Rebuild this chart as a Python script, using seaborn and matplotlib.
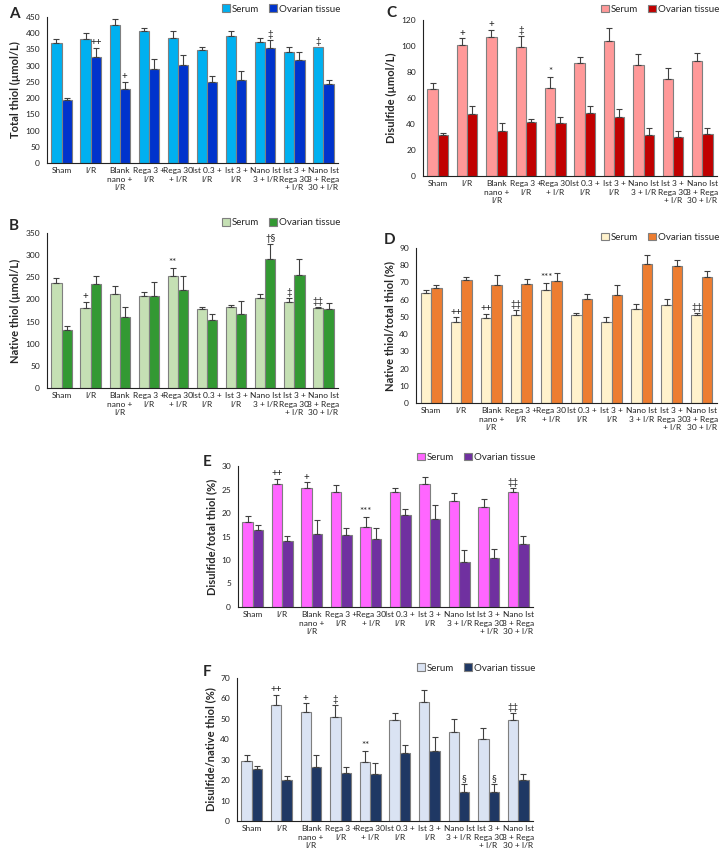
import matplotlib
matplotlib.use("Agg")
import matplotlib.pyplot as plt
import seaborn as sns
import pandas as pd

sns.set_style("white")
plt.rcParams['font.family'] = ['Lato', 'DejaVu Sans']

groups = ["Sham", "I/R", "Blank\nnano +\nI/R", "Rega 3 +\nI/R", "Rega 30\n+ I/R",
          "Ist 0.3 +\nI/R", "Ist 3 +\nI/R", "Nano Ist\n3 + I/R", "Ist 3 +\nRega 30\n+ I/R",
          "Nano Ist\n3 + Rega\n30 + I/R"]

# A - total thiol
a_serum = [370, 383, 426, 406, 386, 349, 391, 373, 343, 358]
a_serum_err = [12, 17, 19, 10, 20, 9, 16, 12, 15, 0]
a_ovary = [195, 327, 229, 290, 303, 249, 257, 354, 316, 242]
a_ovary_err = [5, 28, 20, 31, 30, 19, 27, 26, 27, 14]
a_serum_sig = ["", "", "", "", "", "", "", "", "", "‡"]
a_ovary_sig = ["", "++", "+", "", "", "", "", "‡", "", ""]

# B - native thiol
b_serum = [236, 181, 212, 207, 253, 178, 183, 204, 195, 181]
b_serum_err = [13, 13, 19, 10, 18, 4, 4, 9, 9, 3]
b_ovary = [130, 234, 161, 207, 222, 153, 168, 292, 256, 179]
b_ovary_err = [9, 18, 22, 32, 30, 14, 29, 33, 36, 13]
b_serum_sig = ["", "+", "", "", "**", "", "", "", "‡", "‡‡"]
b_ovary_sig = ["", "", "", "", "", "", "", "†§", "", ""]

# C - disulfide
c_serum = [66.7, 100.8, 107.2, 99.5, 67.4, 86.7, 104.1, 85.6, 74.9, 88.7]
c_serum_err = [5, 5, 5, 8, 9, 5, 9.5, 8, 8, 6]
c_ovary = [31.8, 47.4, 34.4, 41.3, 41.0, 48.5, 45.6, 31.3, 29.7, 32.3]
c_ovary_err = [1, 6.5, 6, 2.3, 4.6, 5, 6, 6, 5, 4.4]
c_serum_sig = ["", "+", "+", "‡", "*", "", "", "", "", ""]
c_ovary_sig = [""] * 10

# D - native/total thiol
d_serum = [63.8, 47.2, 49.3, 50.9, 65.7, 51.0, 47.2, 54.6, 57.0, 51.0]
d_serum_err = [2, 2.5, 2.5, 3.3, 4, 1.5, 3, 3, 3.5, 1.2]
d_ovary = [66.7, 71.4, 68.7, 69.2, 70.9, 60.6, 62.9, 80.7, 79.3, 73.1]
d_ovary_err = [2, 2, 5.6, 2.8, 4.6, 2.6, 5.5, 5.3, 3.9, 3.7]
d_serum_sig = ["", "++", "++", "‡‡", "***", "", "", "", "", "‡‡"]
d_ovary_sig = [""] * 10

# E - disulfide/total thiol
e_serum = [18.1, 26.2, 25.4, 24.4, 17.1, 24.5, 26.2, 22.6, 21.3, 24.4]
e_serum_err = [1.2, 1.1, 1.1, 1.6, 2.1, 0.9, 1.5, 1.6, 1.7, 1.0]
e_ovary = [16.4, 14.0, 15.5, 15.3, 14.5, 19.5, 18.7, 9.6, 10.4, 13.3]
e_ovary_err = [1.0, 1.2, 3.0, 1.6, 2.4, 1.4, 3.0, 2.5, 2.0, 1.8]
e_serum_sig = ["", "++", "+", "", "***", "", "", "", "", "‡‡"]
e_ovary_sig = [""] * 10

# F - disulfide/native thiol
f_serum = [29.2, 57.0, 53.2, 50.8, 28.7, 49.5, 58.3, 43.8, 39.9, 49.2]
f_serum_err = [2.9, 4.9, 4.4, 5.9, 5.7, 3.6, 5.8, 5.9, 5.7, 3.6]
f_ovary = [25.3, 20.1, 26.3, 23.7, 23.2, 33.4, 34.1, 14.1, 14.4, 20.2]
f_ovary_err = [1.6, 2.1, 5.8, 2.9, 5.2, 3.6, 6.8, 4.2, 3.6, 3.0]
f_serum_sig = ["", "++", "+", "‡", "**", "", "", "", "", "‡‡"]
f_ovary_sig = ["", "", "", "", "", "", "", "§", "§", ""]

W, H = 727, 863
fig = plt.figure(figsize=(W / 100, H / 100), dpi=100)


def px_axes(left, top, right, bottom):
    return fig.add_axes([left / W, 1 - bottom / H, (right - left) / W, (bottom - top) / H])


def panel(ax, letter, lpos, serum, serum_err, ovary, ovary_err, serum_sig, ovary_sig,
          colors, ylabel, ymax, step, leg_y):
    df = pd.DataFrame({
        "group": groups * 2,
        "value": serum + ovary,
        "sample": ["Serum"] * 10 + ["Ovarian tissue"] * 10,
    })
    sns.barplot(data=df, x="group", y="value", hue="sample", palette=colors,
                edgecolor="#7f7f7f", linewidth=0.8, errorbar=None, width=0.7,
                gap=0, saturation=1, ax=ax)
    # error bars (upper half only) and significance marks
    for cont, errs, sigs in zip(ax.containers, [serum_err, ovary_err], [serum_sig, ovary_sig]):
        for bar, e, s in zip(cont.patches, errs, sigs):
            xc = bar.get_x() + bar.get_width() / 2
            h = bar.get_height()
            if e > 0:
                ax.errorbar(xc, h, yerr=[[0], [e]], fmt="none", ecolor="#404040",
                            elinewidth=0.8, capsize=2.2, capthick=0.8)
            if s:
                ax.text(xc, h + e + ymax * 0.005, s, ha="center", va="bottom",
                        fontsize=7, color="#222222")
    ax.set_xlim(-0.5, 9.5)
    ax.set_ylim(0, ymax)
    ax.set_yticks([v * step for v in range(int(round(ymax / step)) + 1)])
    ax.set_xlabel("")
    ax.set_ylabel(ylabel, fontsize=8, fontweight="bold", labelpad=3)
    ax.tick_params(axis="y", labelsize=6, length=3, width=0.8, pad=2, colors="#222222")
    ax.tick_params(axis="x", which="major", labelsize=6, length=0, pad=3)
    ax.set_xticks([i - 0.5 for i in range(11)], minor=True)
    ax.tick_params(axis="x", which="minor", length=3, width=0.8)
    for lab in ax.get_xticklabels():
        lab.set_linespacing(1.25)
        lab.set_color("#222222")
    sns.despine(ax=ax)
    for sp in ["left", "bottom"]:
        ax.spines[sp].set_color("#222222")
        ax.spines[sp].set_linewidth(0.8)
    ax.legend(loc="center right", bbox_to_anchor=(1.02, leg_y), ncol=2, frameon=False,
              fontsize=7, handlelength=0.8, handleheight=0.8, handletextpad=0.2,
              columnspacing=1.0, borderaxespad=0)
    fig.text(lpos[0] / W, 1 - lpos[1] / H, letter, fontsize=11, fontweight="bold",
             ha="left", va="center")


axA = px_axes(47, 17, 338, 163)
panel(axA, "A", (9, 14), a_serum, a_serum_err, a_ovary, a_ovary_err, a_serum_sig, a_ovary_sig,
      ["#00B0F0", "#0033CC"], "Total thiol (µmol/L)", 450, 50, 1.055)

axC = px_axes(423, 20, 717, 176)
panel(axC, "C", (386, 13), c_serum, c_serum_err, c_ovary, c_ovary_err, c_serum_sig, c_ovary_sig,
      ["#FF9999", "#C00000"], "Disulfide (µmol/L)", 120, 20, 1.07)

axB = px_axes(47, 233, 338, 388)
panel(axB, "B", (9, 226), b_serum, b_serum_err, b_ovary, b_ovary_err, b_serum_sig, b_ovary_sig,
      ["#C5E0B4", "#339933"], "Native thiol (µmol/L)", 350, 50, 1.065)

axD = px_axes(416, 248, 717, 403)
panel(axD, "D", (384, 240), d_serum, d_serum_err, d_ovary, d_ovary_err, d_serum_sig, d_ovary_sig,
      ["#FFF2CC", "#ED7D31"], "Native thiol/total thiol (%)", 90, 10, 1.07)

axE = px_axes(238, 466, 533, 607)
panel(axE, "E", (203, 462), e_serum, e_serum_err, e_ovary, e_ovary_err, e_serum_sig, e_ovary_sig,
      ["#FF66FF", "#7030A0"], "Disulfide/total thiol (%)", 30, 5, 1.06)

axF = px_axes(237, 678, 533, 821)
panel(axF, "F", (203, 672), f_serum, f_serum_err, f_ovary, f_ovary_err, f_serum_sig, f_ovary_sig,
      ["#DAE3F3", "#1F3864"], "Disulfide/native thiol (%)", 70, 10, 1.07)

fig.savefig("out.png", dpi=100)
